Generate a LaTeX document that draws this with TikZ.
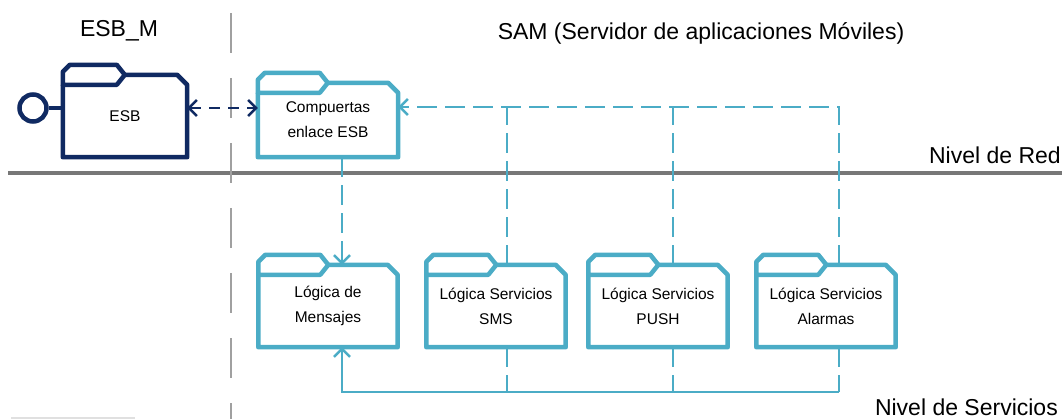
\documentclass[tikz,border=0pt]{standalone}
\usepackage{fontspec}
\setmainfont{Liberation Sans}
\usetikzlibrary{arrows.meta,calc,positioning}
\definecolor{navyc}{RGB}{16,42,98}
\definecolor{tealc}{RGB}{75,172,198}
\definecolor{sepc}{RGB}{160,160,160}
\definecolor{levelc}{RGB}{119,119,119}

\begin{document}
\begin{tikzpicture}[x=1pt,y=-1pt,>={Straight Barb[length=8pt,width=16pt]}]
\tikzstyle{pkg}=[inner sep=0pt,align=center,
font=\fontsize{15.5}{25}\selectfont,minimum height=82pt,minimum width=139pt]
\tikzstyle{folder}=[line width=4.5pt,line join=round]
\tikzstyle{title}=[inner sep=0pt,font=\fontsize{23}{27}\selectfont]
\tikzstyle{tdash}=[draw=tealc,line width=2.5pt,dash pattern=on 20pt off 8pt]
\tikzstyle{tline}=[draw=tealc,line width=2.5pt]
\useasboundingbox (0,0) rectangle (1062,419);

% levels and separator
\draw[levelc,line width=4.5pt] (8,173) -- (1062,173);
\draw[sepc,line width=2.5pt,dash pattern=on 40pt off 25pt] (231,13) -- (231,419);
\draw[black!12,line width=1.5pt] (11,418) -- (135,418);

\node[title] (tesbm) at (119,31) {ESB\_M};
\node[title] (tsam) at (701,33) {SAM (Servidor de aplicaciones Móviles)};
\node[title,anchor=east] (tred) at (1061,155) {Nivel de Red};
\node[title,anchor=east] (tserv) at (1058,407) {Nivel de Servicios};

% packages
\node[pkg,minimum width=124pt] (esb) at (125,116) {ESB};
\node[pkg,minimum width=140pt,minimum height=74pt] (gw) at (328,120) {Compuertas\\enlace ESB};
\node[pkg] (msg) at (328,306) {Lógica de\\Mensajes};
\node[pkg] (sms) at (496,306) {Lógica Servicios\\SMS};
\node[pkg] (push) at (658,306) {Lógica Servicios\\PUSH};
\node[pkg] (alarm) at (826,306) {Lógica Servicios\\Alarmas};

\foreach \n/\c/\w in {esb/navyc/62,gw/tealc/70,msg/tealc/70,sms/tealc/70,push/tealc/70,alarm/tealc/70}{
\draw[folder,draw=\c] ($(\n.north west)+(0,10)$) -- ++(0,-13) -- ++(7,-7)
  -- ($(\n.north west)+(\w-8,-10)$) -- ($(\n.north west)+(\w,0)$)
  -- ($(\n.north west)+(\w-8,10)$) -- cycle;
\draw[folder,draw=\c] ($(\n.north west)+(\w,0)$) -- ($(\n.north east)+(-10,0)$)
  -- ($(\n.north east)+(0,10)$) -- (\n.south east) -- (\n.south west)
  -- ($(\n.north west)+(0,10)$);
}

% interface
\node[circle,draw=navyc,line width=4.5pt,minimum size=27pt,inner sep=0pt] (lol) at (33,108) {};
\draw[navyc,line width=4.5pt] (lol) -- (lol -| esb.west);

% connectors
\coordinate (topbus) at (839,107);
\coordinate (botbus) at (839,392);
\draw[<->,navyc,line width=2.5pt,dash pattern=on 11pt off 8pt] (esb.east |- lol) -- (gw.west |- lol);
\draw[tdash,->] ([xshift=14pt]gw.south) -- ([xshift=14pt]msg.north);
\draw[tdash,->] ([xshift=13pt]alarm.north) |- (gw.east |- topbus);
\foreach \n/\d in {sms/11,push/15}
  \draw[tdash] ([xshift=\d pt]\n.north) -- ([xshift=\d pt]\n.north |- topbus);
\foreach \n/\d in {sms/11,push/15,alarm/13}
  \draw[tdash] ([xshift=\d pt]\n.south) -- ([xshift=\d pt]\n.south |- botbus);
\draw[tline,->] ([xshift=13pt]alarm.south |- botbus) -| ([xshift=14pt]msg.south);

\end{tikzpicture}
\end{document}
